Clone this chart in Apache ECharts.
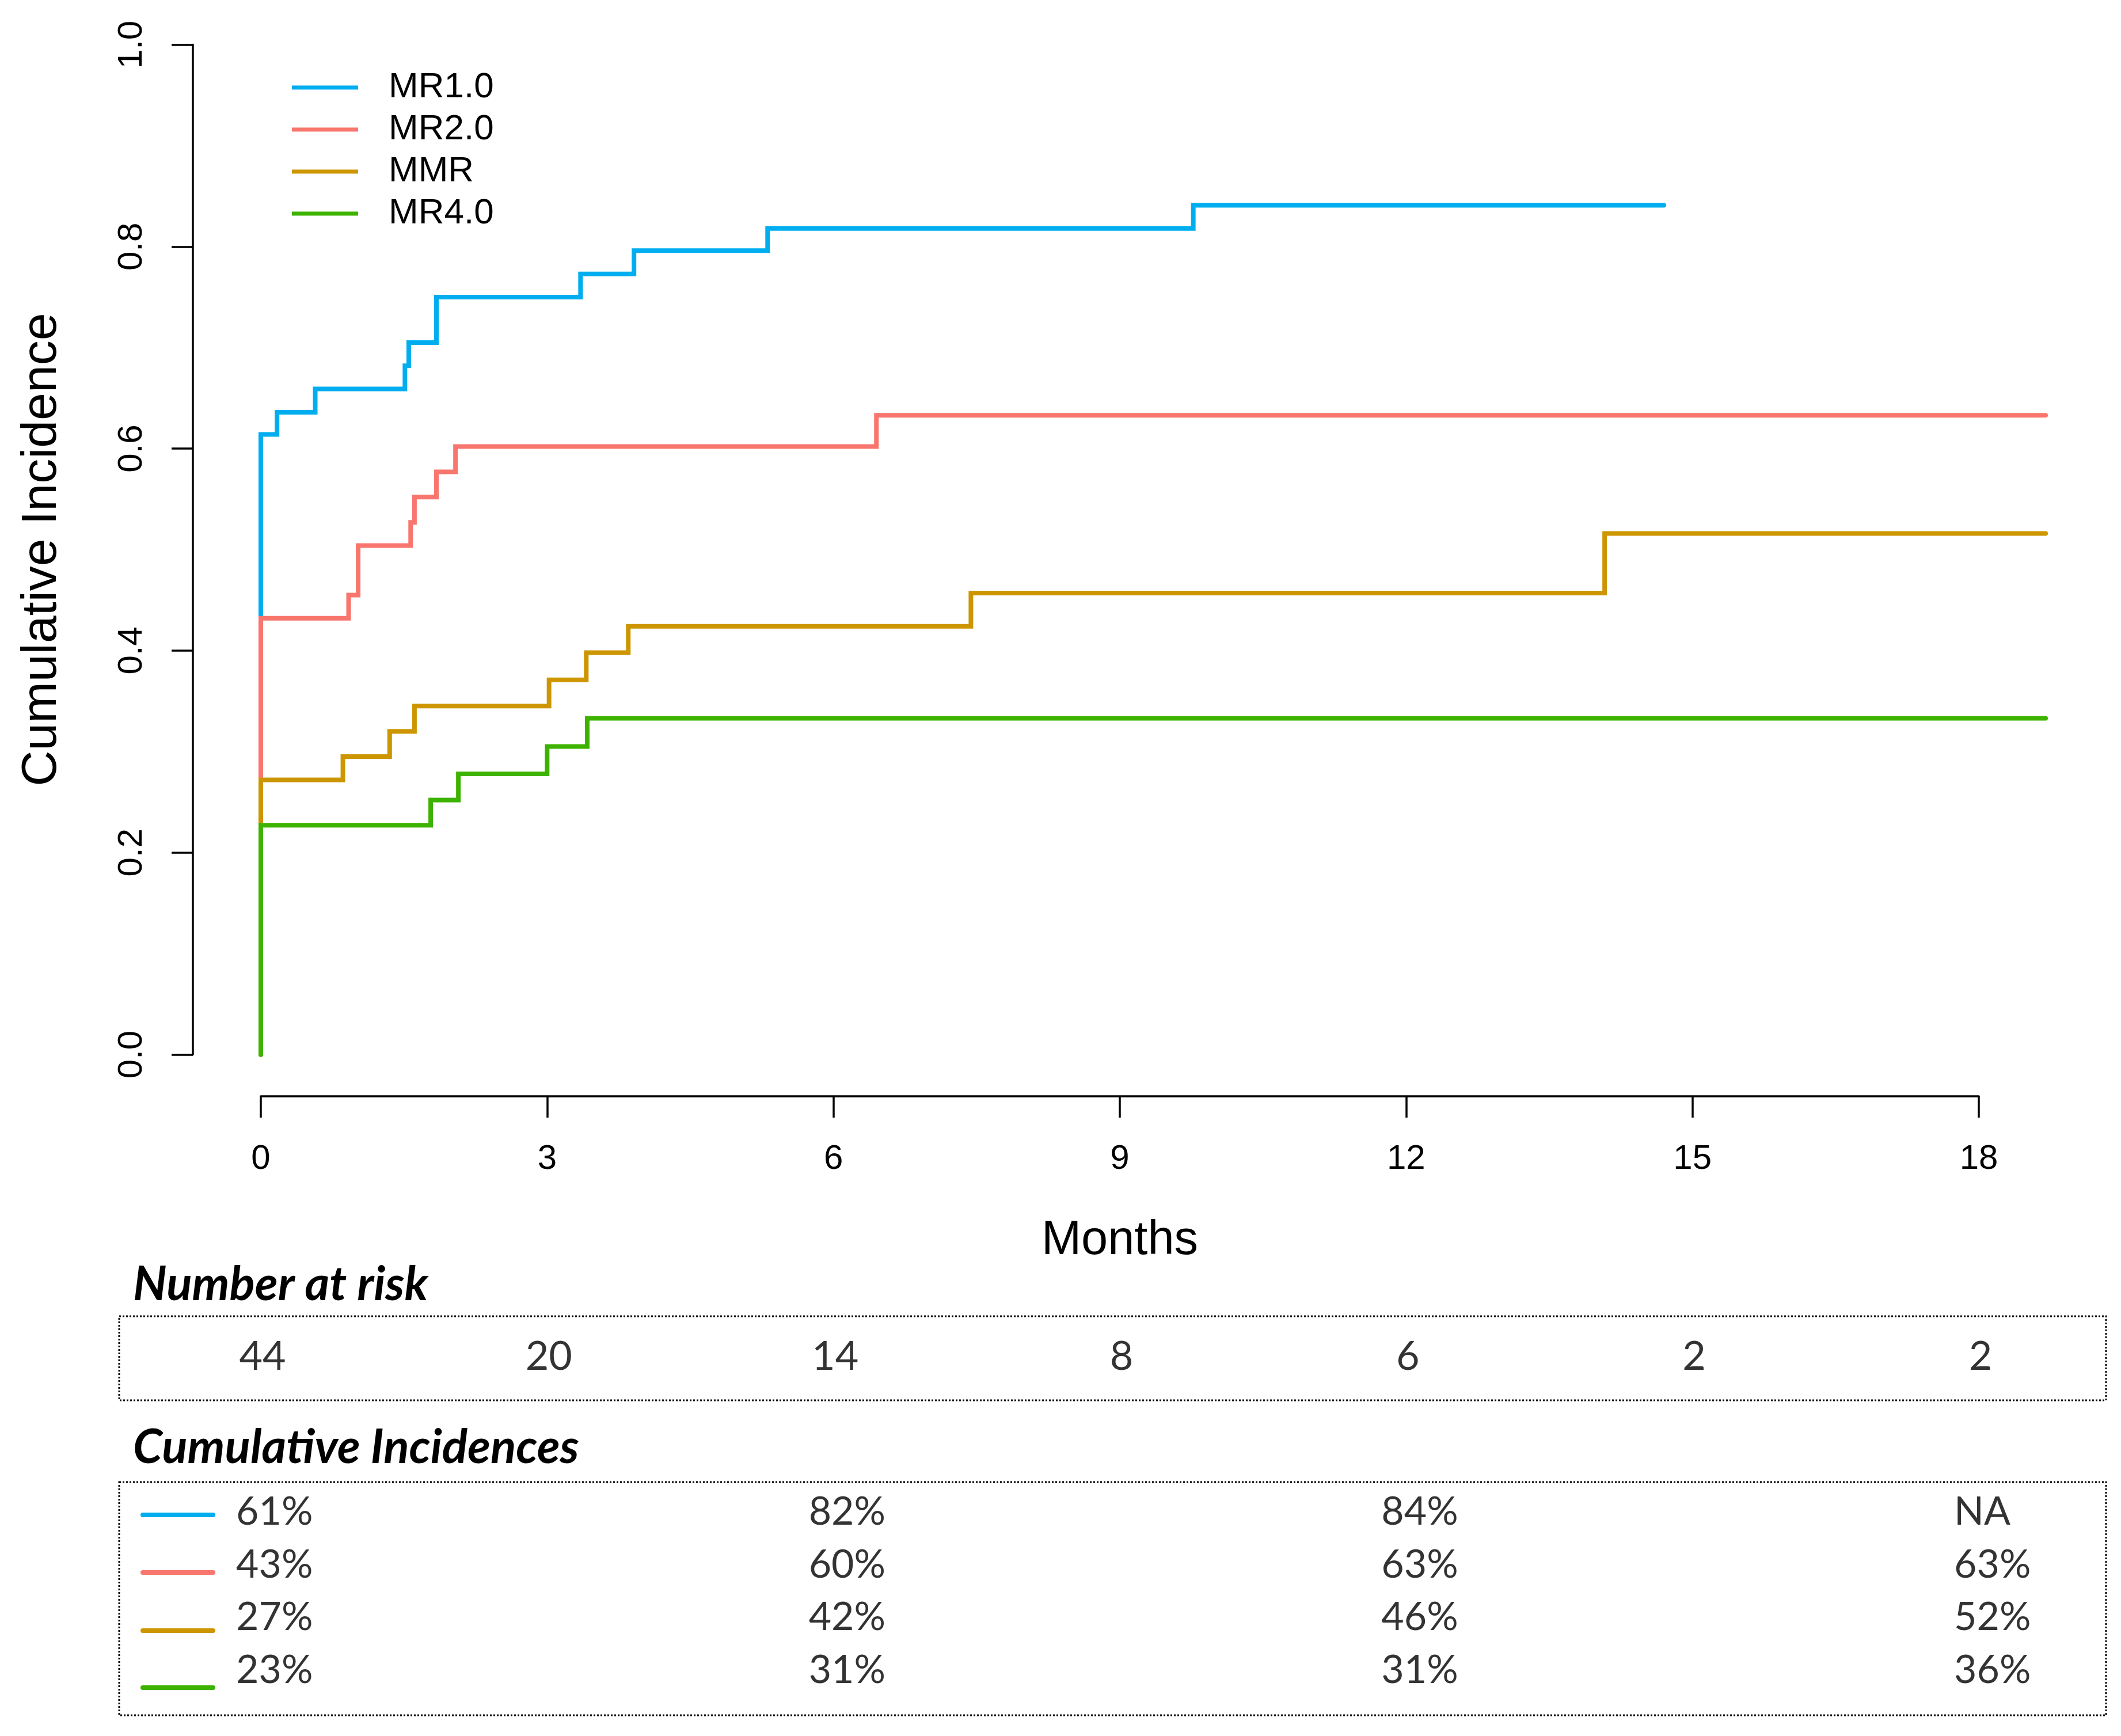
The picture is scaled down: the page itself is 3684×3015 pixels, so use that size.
<!DOCTYPE html>
<html>
<head>
<meta charset="utf-8">
<script src="https://cdn.jsdelivr.net/npm/echarts@6/dist/echarts.min.js"></script>
<style>
html,body{margin:0;padding:0;background:#fff;}
#chart{width:3684px;height:3015px;}
</style>
</head>
<body>
<div id="chart"></div>
<script>
// ---- data ----
const seriesNames = ['MR1.0', 'MR2.0', 'MMR', 'MR4.0'];
const seriesColors = ['#00AEEF', '#F8766D', '#CD9600', '#3DB300'];

const mr1 = [[0,0],[0,0.614],[0.17,0.636],[0.57,0.659],[1.51,0.682],[1.55,0.705],[1.84,0.750],[3.35,0.773],[3.91,0.796],[5.31,0.818],[9.77,0.841],[14.70,0.841]];
const mr2 = [[0,0],[0,0.432],[0.92,0.455],[1.02,0.504],[1.57,0.527],[1.61,0.552],[1.84,0.577],[2.04,0.602],[6.45,0.633],[18.70,0.633]];
const mmr = [[0,0],[0,0.272],[0.86,0.295],[1.35,0.320],[1.61,0.345],[3.02,0.371],[3.41,0.398],[3.85,0.424],[7.44,0.457],[14.08,0.516],[18.70,0.516]];
const mr4 = [[0,0],[0,0.227],[1.78,0.252],[2.07,0.278],[3.00,0.305],[3.42,0.333],[18.70,0.333]];

const xTicks = [0, 3, 6, 9, 12, 15, 18];
const yTicks = [0, 0.2, 0.4, 0.6, 0.8, 1.0];

const riskTimes = [0, 3, 6, 9, 12, 15, 18];
const riskCounts = [44, 20, 14, 8, 6, 2, 2];

const ciTimes = [0, 6, 12, 18];
const ciMR1 = ['61%', '82%', '84%', 'NA'];
const ciMR2 = ['43%', '60%', '63%', '63%'];
const ciMMR = ['27%', '42%', '46%', '52%'];
const ciMR4 = ['23%', '31%', '31%', '36%'];

// ---- layout ----
const SANS = 'Liberation Sans, Arial, sans-serif';
const TAB = 'Lato, Open Sans, sans-serif';
const plotLeft = 453, plotRight = 247;           // x = 0 .. 18 months
const pxPerMonth = (3684 - plotLeft - plotRight) / 18;
const dataMaxX = 19;                              // plotting region extends past the last tick
const dataRight = 3684 - (plotLeft + dataMaxX * pxPerMonth);
const plotTop = 77.5, plotBottom = 1183.5;

const curves = [mr1, mr2, mmr, mr4];
const ciRows = [ciMR1, ciMR2, ciMMR, ciMR4];

const lineSeries = curves.map((d, i) => ({
  name: seriesNames[i],
  type: 'line',
  step: 'end',
  data: d,
  xAxisIndex: 0, yAxisIndex: 0,
  showSymbol: false, symbol: 'none',
  clip: false,
  lineStyle: { color: seriesColors[i], width: 8, cap: 'round', join: 'miter' },
  itemStyle: { color: seriesColors[i] },
  emphasis: { disabled: true },
  z: 2 + i
}));

const riskSeries = {
  type: 'scatter',
  xAxisIndex: 1, yAxisIndex: 1,
  data: riskTimes.map((t, i) => [t, 0.5, riskCounts[i]]),
  symbolSize: 1,
  itemStyle: { color: 'rgba(0,0,0,0)' },
  label: {
    show: true, position: 'inside', offset: [3, 0],
    formatter: p => String(p.data[2]),
    fontFamily: TAB, fontSize: 70, color: '#000'
  },
  silent: true
};

const ciData = [];
ciRows.forEach((row, r) => row.forEach((txt, c) => ciData.push([ciTimes[c], r, txt])));
const ciSeries = {
  type: 'scatter',
  xAxisIndex: 2, yAxisIndex: 2,
  data: ciData,
  symbolSize: 1,
  itemStyle: { color: 'rgba(0,0,0,0)' },
  label: {
    show: true, position: 'inside', align: 'left', offset: [-43, 0],
    formatter: p => p.data[2],
    fontFamily: TAB, fontSize: 68, color: '#000'
  },
  silent: true
};

const keyYs = [2631, 2731, 2832, 2931];
const graphics = [
  { type: 'rect', shape: { x: 207, y: 2286, width: 3451, height: 146 },
    style: { fill: 'none', stroke: '#000', lineWidth: 3, lineDash: [3, 3] } },
  { type: 'rect', shape: { x: 207, y: 2574, width: 3451, height: 405 },
    style: { fill: 'none', stroke: '#000', lineWidth: 3, lineDash: [3, 3] } },
  { type: 'text', x: 231, y: 2232,
    style: { text: 'Number at risk', font: 'italic bold 82px Lato, sans-serif', fill: '#000',
             textAlign: 'left', textVerticalAlign: 'middle' } },
  { type: 'text', x: 231, y: 2515,
    style: { text: 'Cumulative Incidences', font: 'italic bold 82px Lato, sans-serif', fill: '#000',
             textAlign: 'left', textVerticalAlign: 'middle' } }
].concat(keyYs.map((y, i) => ({
  type: 'line', shape: { x1: 248, y1: y, x2: 370, y2: y },
  style: { stroke: seriesColors[i], lineWidth: 8, lineCap: 'round' }
})));

const chart = echarts.init(document.getElementById('chart'), null, { renderer: 'canvas' });
chart.setOption({
  animation: false,
  backgroundColor: '#fff',
  grid: [
    { left: plotLeft, right: dataRight, top: plotTop, bottom: plotBottom, outerBoundsMode: 'none', containLabel: false },
    { left: plotLeft, right: plotRight, top: 2283, height: 146, outerBoundsMode: 'none', containLabel: false },
    { left: plotLeft, right: plotRight, top: 2580, height: 367, outerBoundsMode: 'none', containLabel: false },
    { left: plotLeft, right: plotRight, top: plotTop, bottom: plotBottom, outerBoundsMode: 'none', containLabel: false }
  ],
  xAxis: [
    { type: 'value', gridIndex: 0, min: 0, max: dataMaxX, show: false },
    { type: 'value', gridIndex: 1, min: 0, max: 18, show: false },
    { type: 'value', gridIndex: 2, min: 0, max: 18, show: false },
    { type: 'value', gridIndex: 3, min: xTicks[0], max: xTicks[xTicks.length - 1], interval: 3,
      position: 'bottom', offset: 72.5,
      axisLine: { show: true, onZero: false, lineStyle: { color: '#000', width: 3.5 } },
      axisTick: { show: true, length: 37, lineStyle: { color: '#000', width: 3.5 } },
      axisLabel: { show: true, margin: 79, fontFamily: SANS, fontSize: 60, color: '#000' },
      splitLine: { show: false },
      name: 'Months', nameLocation: 'middle', nameGap: 210,
      nameTextStyle: { fontFamily: SANS, fontSize: 83, color: '#000' } }
  ],
  yAxis: [
    { type: 'value', gridIndex: 0, min: yTicks[0], max: yTicks[yTicks.length - 1], interval: 0.2,
      position: 'left', offset: 118,
      axisLine: { show: true, onZero: false, lineStyle: { color: '#000', width: 3.5 } },
      axisTick: { show: true, length: 37, lineStyle: { color: '#000', width: 3.5 } },
      axisLabel: { show: true, rotate: 90, margin: 76, fontFamily: SANS, fontSize: 60, color: '#000',
                   formatter: v => v.toFixed(1) },
      splitLine: { show: false },
      name: 'Cumulative Incidence', nameLocation: 'middle', nameGap: 219, nameRotate: 90,
      nameTextStyle: { fontFamily: SANS, fontSize: 86, color: '#000' } },
    { type: 'value', gridIndex: 1, min: 0, max: 1, show: false },
    { type: 'category', gridIndex: 2, data: seriesNames, inverse: true, show: false },
    { type: 'value', gridIndex: 3, min: 0, max: 1, show: false }
  ],
  legend: {
    show: true, orient: 'vertical', left: 507, top: 121, padding: 0,
    data: seriesNames, icon: 'rect', itemWidth: 115, itemHeight: 7, itemGap: 11,
    textStyle: { fontFamily: SANS, fontSize: 62, color: '#000', padding: [0, 0, 0, 48], lineHeight: 62 },
    selectedMode: false
  },
  graphic: graphics,
  series: lineSeries.concat([riskSeries, ciSeries])
});
</script>
</body>
</html>
